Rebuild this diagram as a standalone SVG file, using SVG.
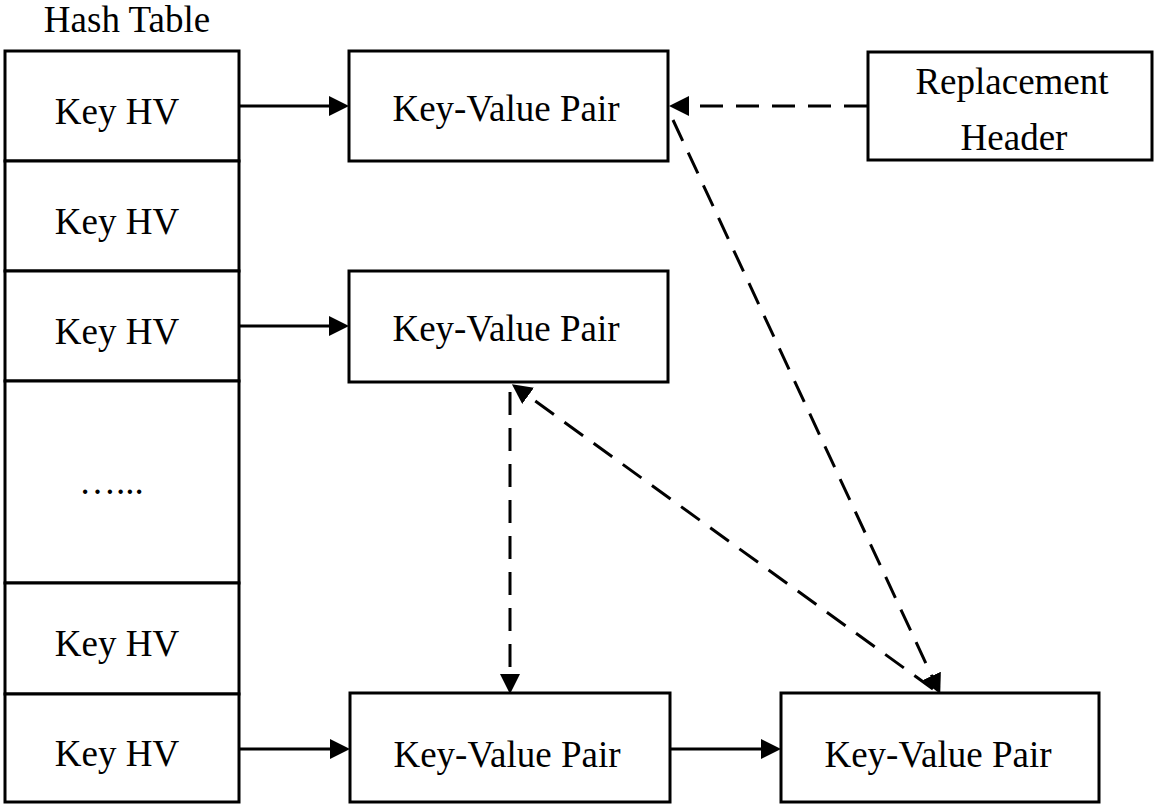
<svg xmlns="http://www.w3.org/2000/svg" width="1160" height="804" viewBox="0 0 1160 804">
<style>
.box{fill:#fff;stroke:#000;stroke-width:3}
.t{font-family:"Liberation Serif","Times New Roman",serif;font-size:37px;fill:#000;text-anchor:middle}
.ln{fill:none;stroke:#000;stroke-width:3}
.ds{fill:none;stroke:#000;stroke-width:3;stroke-dasharray:23 13}
</style>
<defs>
<marker id="ah" markerUnits="userSpaceOnUse" markerWidth="20" markerHeight="20" viewBox="0 0 20 20" refX="10" refY="10" orient="auto">
<path d="M0,0 L20,10 L0,20 z" fill="#000" stroke="none"/>
</marker>
</defs>
<g id="title"><text class="t" x="127" y="32">Hash Table</text></g>
<g id="hash-table">
<rect class="box" x="5" y="51" width="234" height="110"/>
<rect class="box" x="5" y="161" width="234" height="110"/>
<rect class="box" x="5" y="271" width="234" height="110"/>
<rect class="box" x="5" y="381" width="234" height="202"/>
<rect class="box" x="5" y="583" width="234" height="111"/>
<rect class="box" x="5" y="694" width="234" height="108"/>
<text class="t" x="117" y="124">Key HV</text>
<text class="t" x="117" y="234">Key HV</text>
<text class="t" x="117" y="344">Key HV</text>
<text class="t" x="79" y="494" style="text-anchor:start">…...</text>
<text class="t" x="117" y="656">Key HV</text>
<text class="t" x="117" y="766">Key HV</text>
</g>
<g id="kv1"><rect class="box" x="349" y="51" width="319" height="110"/><text class="t" x="506" y="121">Key-Value Pair</text></g>
<g id="replacement-header"><rect class="box" x="868" y="52" width="284" height="108"/><text class="t" x="1012" y="94">Replacement</text><text class="t" x="1014" y="150">Header</text></g>
<g id="kv2"><rect class="box" x="349" y="271" width="319" height="111"/><text class="t" x="506" y="341">Key-Value Pair</text></g>
<g id="kv3"><rect class="box" x="350" y="693" width="320" height="109"/><text class="t" x="507" y="767">Key-Value Pair</text></g>
<g id="kv4"><rect class="box" x="781" y="693" width="318" height="109"/><text class="t" x="938" y="767">Key-Value Pair</text></g>
<g id="connectors">
<line class="ln" x1="240" y1="106" x2="339" y2="106" marker-end="url(#ah)"/>
<line class="ln" x1="240" y1="326" x2="339" y2="326" marker-end="url(#ah)"/>
<line class="ln" x1="240" y1="749" x2="340" y2="749" marker-end="url(#ah)"/>
<line class="ln" x1="671" y1="749" x2="771" y2="749" marker-end="url(#ah)"/>
<line class="ds" x1="867" y1="106" x2="679" y2="106" marker-end="url(#ah)"/>
<line class="ds" x1="510" y1="392" x2="510" y2="684" marker-end="url(#ah)"/>
<line class="ds" x1="673" y1="120" x2="936" y2="685" marker-end="url(#ah)"/>
<line class="ds" x1="933" y1="689" x2="520" y2="390" marker-end="url(#ah)"/>
</g>
</svg>
